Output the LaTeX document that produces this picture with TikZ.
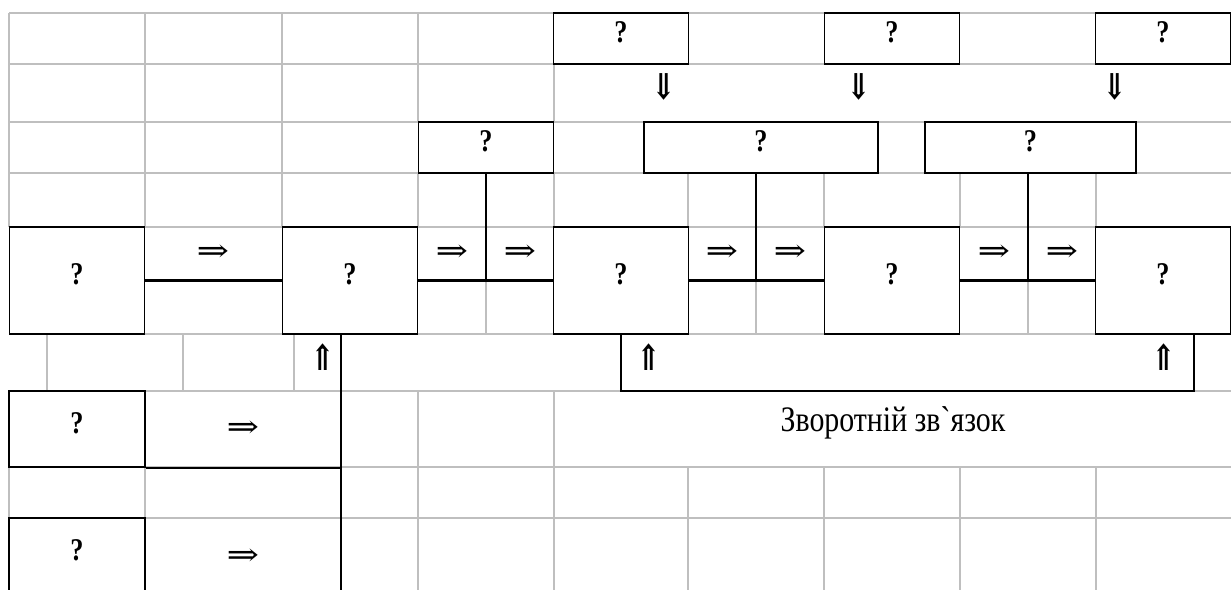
\documentclass[tikz,border=0pt]{standalone}
\usepackage{fontspec}
\setmainfont{Liberation Serif}[Ligatures=TeXOff]
\newfontfamily\arrowfont{DejaVu Serif}
\usepackage{graphicx}
\usepackage{tikz}
\newcommand{\tallbox}[1]{\scalebox{1}[1.2]{#1}}
\newcommand{\widebox}[1]{\scalebox{1.3}[1.05]{#1}}
\tikzstyle{qbox} = [
    rectangle,
    draw=black,
    line width=1.1pt,
    fill=white,
    inner sep=0pt,
    text depth=0.24cm,
    font=\fontsize{15}{18}\selectfont\bfseries
]
\tikzstyle{topbox} = [
    qbox,
    minimum width=2.7cm,
    minimum height=1.02cm
]
\tikzstyle{bigbox} = [
    qbox,
    minimum width=2.7cm,
    minimum height=2.14cm
]
\tikzstyle{sidebox} = [
    qbox,
    minimum width=2.72cm,
    minimum height=1.52cm
]
\tikzstyle{sym} = [
    inner sep=0pt,
    font=\arrowfont\fontsize{17}{20}\selectfont
]
\tikzstyle{note} = [
    inner sep=0pt,
    font=\fontsize{17}{20}\selectfont
]
\tikzstyle{cell} = [
    draw=black!25,
    line width=0.6pt
]
\tikzstyle{link} = [
    draw=black,
    line width=1.2pt
]

\begin{document}
\begin{tikzpicture}[
    x=0.02cm,
    y=-0.02cm
]

\useasboundingbox (0,0) rectangle (1231,590);
\clip (0,0) rectangle (1231,590);

\foreach \y in {13,64,122,173,227,334,391,467,518}
    \draw [cell] (9,\y) -- (1231,\y);
\foreach \x in {9,145,282,418}
    \draw [cell] (\x,13) -- (\x,64);
\foreach \x in {9,145,282,418,554}
    \draw [cell] (\x,64) -- (\x,122);
\foreach \x in {9,145,282}
    \draw [cell] (\x,122) -- (\x,173);
\foreach \x in {9,145,282,418,554,688,824,960,1096}
    \draw [cell] (\x,173) -- (\x,227);
\foreach \x in {486,756,1028}
    \draw [cell] (\x,282) -- (\x,334);
\foreach \x in {47,183,294}
    \draw [cell] (\x,334) -- (\x,391);
\foreach \x in {418,554}
    \draw [cell] (\x,391) -- (\x,467);
\foreach \x in {9,145,418,554,688,824,960,1096}
    \draw [cell] (\x,467) -- (\x,518);
\foreach \x in {418,554,688,824,960,1096}
    \draw [cell] (\x,518) -- (\x,590);

\node (top1) [topbox] at (621,38.5)
{\tallbox{?}};

\node (top2) [topbox] at (892,38.5)
{\tallbox{?}};

\node (top3) [topbox] at (1163,38.5)
{\tallbox{?}};

\node (mid1) [topbox] at (486,147.5)
{\tallbox{?}};

\node (mid2) [topbox, minimum width=4.68cm] at (761,147.5)
{\tallbox{?}};

\node (mid3) [topbox, minimum width=4.22cm] at (1030.5,147.5)
{\tallbox{?}};

\node (main1) [bigbox] at (77,280.5)
{\tallbox{?}};

\node (main2) [bigbox] at (350,280.5)
{\tallbox{?}};

\node (main3) [bigbox] at (621,280.5)
{\tallbox{?}};

\node (main4) [bigbox] at (892,280.5)
{\tallbox{?}};

\node (main5) [bigbox] at (1163,280.5)
{\tallbox{?}};

\node (side1) [sidebox] at (77,429)
{\tallbox{?}};

\node (side2) [sidebox] at (77,556)
{\tallbox{?}};

\coordinate (j1) at (486,0);
\coordinate (j2) at (756,0);
\coordinate (j3) at (1028,0);
\coordinate (fbend) at (1194,391);
\coordinate (trunk) at (341,600);

\draw [link] (main1) -- (main2);

\draw [link] (main2) -- (main3);

\draw [link] (main3) -- (main4);

\draw [link] (main4) -- (main5);

\draw [link] (mid1.south) -- (mid1.south |- main2.east);

\draw [link] (mid2.south -| j2) -- (j2 |- main3.east);

\draw [link] (mid3.south -| j3) -- (j3 |- main4.east);

\draw [link]
(main3.south) |- (fbend) -- (fbend |- main5.south);

\draw [link] (main2.south -| trunk) -- (trunk);

\draw [link] (side1.south east) -- (side1.south east -| trunk);

\node (ra1) [sym] at (213,253) {\widebox{⇒}};
\node (ra2) [sym] at (452,253) {\widebox{⇒}};
\node (ra3) [sym] at (520,253) {\widebox{⇒}};
\node (ra4) [sym] at (722,253) {\widebox{⇒}};
\node (ra5) [sym] at (790,253) {\widebox{⇒}};
\node (ra6) [sym] at (994,253) {\widebox{⇒}};
\node (ra7) [sym] at (1062,253) {\widebox{⇒}};
\node (ra8) [sym] at (243,429) {\widebox{⇒}};
\node (ra9) [sym] at (243,557) {\widebox{⇒}};

\node (da1) [sym] at (664,87) {\tallbox{\bfseries ⇓}};
\node (da2) [sym] at (859,87) {\tallbox{\bfseries ⇓}};
\node (da3) [sym] at (1115,87) {\tallbox{\bfseries ⇓}};

\node (ua1) [sym] at (323,357) {\tallbox{\bfseries ⇑}};
\node (ua2) [sym] at (649,357) {\tallbox{\bfseries ⇑}};
\node (ua3) [sym] at (1164,357) {\tallbox{\bfseries ⇑}};

\node (fbtext) [note] at (893,423)
{\tallbox{Зворотній зв`язок}};

\end{tikzpicture}
\end{document}
